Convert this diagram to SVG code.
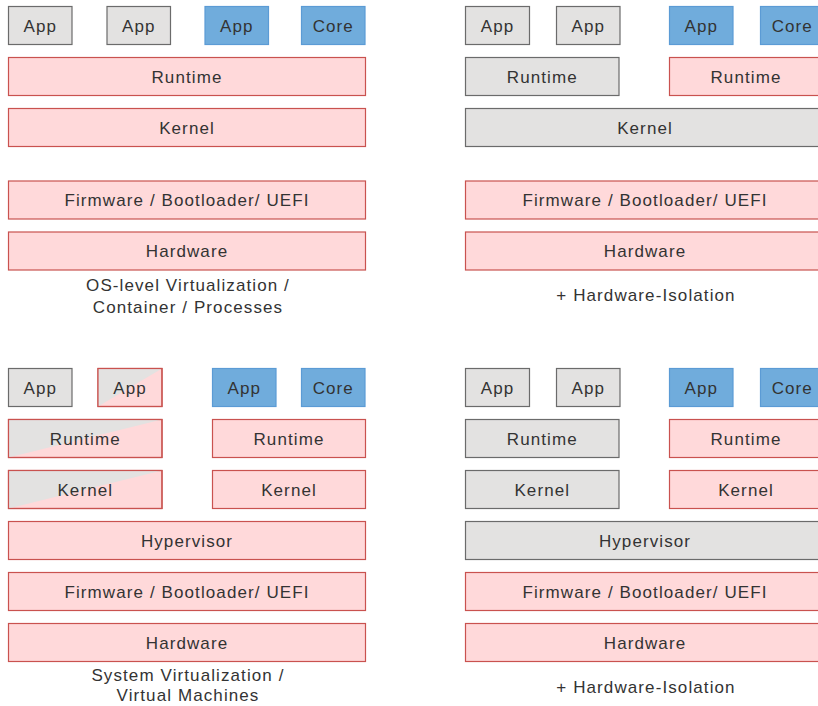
<svg xmlns="http://www.w3.org/2000/svg" width="818" height="706" viewBox="0 0 818 706">
<style>
rect{stroke-width:1.2}
.g{fill:#e3e2e1;stroke:#6b6b6b}
.p{fill:#ffd9da;stroke:#c9524f}
.b{fill:#70acdc;stroke:#5b9bd5}
.o{fill:none;stroke:#c9524f}
.gt{fill:#e3e2e1}
text{font-family:"Liberation Sans",Arial,sans-serif;font-size:17px;fill:#333333;text-anchor:middle;letter-spacing:1.1px}
</style>
<rect width="818" height="706" fill="#ffffff"/>
<!-- Top-left -->
<g id="tl-app1"><rect class="g" x="8.5" y="6.5" width="63.5" height="38"/><text x="40.3" y="31.5">App</text></g>
<g id="tl-app2"><rect class="g" x="107" y="6.5" width="63.5" height="38"/><text x="138.8" y="31.5">App</text></g>
<g id="tl-app3"><rect class="b" x="205" y="6.5" width="63.5" height="38"/><text x="236.8" y="31.5">App</text></g>
<g id="tl-core"><rect class="b" x="301.5" y="6.5" width="63.5" height="38"/><text x="333.3" y="31.5">Core</text></g>
<g id="tl-runtime"><rect class="p" x="8.5" y="57.5" width="357" height="38"/><text x="187" y="82.5">Runtime</text></g>
<g id="tl-kernel"><rect class="p" x="8.5" y="108.5" width="357" height="38"/><text x="187" y="133.5">Kernel</text></g>
<g id="tl-firmware"><rect class="p" x="8.5" y="181" width="357" height="38"/><text x="187" y="206">Firmware / Bootloader/ UEFI</text></g>
<g id="tl-hardware"><rect class="p" x="8.5" y="232" width="357" height="38"/><text x="187" y="257">Hardware</text></g>
<g id="tl-caption"><text x="188" y="291">OS-level Virtualization /</text><text x="188" y="313">Container / Processes</text></g>
<!-- Top-right -->
<g id="tr-app1"><rect class="g" x="465.5" y="6.5" width="64" height="38"/><text x="497.5" y="31.5">App</text></g>
<g id="tr-app2"><rect class="g" x="556.5" y="6.5" width="63.5" height="38"/><text x="588.3" y="31.5">App</text></g>
<g id="tr-app3"><rect class="b" x="669.5" y="6.5" width="63.5" height="38"/><text x="701.3" y="31.5">App</text></g>
<g id="tr-core"><rect class="b" x="760.5" y="6.5" width="63.5" height="38"/><text x="792.3" y="31.5">Core</text></g>
<g id="tr-runtime1"><rect class="g" x="465.5" y="57.5" width="153.5" height="38"/><text x="542.3" y="82.5">Runtime</text></g>
<g id="tr-runtime2"><rect class="p" x="669.5" y="57.5" width="160" height="38"/><text x="746" y="82.5">Runtime</text></g>
<g id="tr-kernel"><rect class="g" x="465.5" y="108.5" width="360" height="38"/><text x="645" y="133.5">Kernel</text></g>
<g id="tr-firmware"><rect class="p" x="465.5" y="181" width="360" height="38"/><text x="645" y="206">Firmware / Bootloader/ UEFI</text></g>
<g id="tr-hardware"><rect class="p" x="465.5" y="232" width="360" height="38"/><text x="645" y="257">Hardware</text></g>
<g id="tr-caption"><text x="646" y="301">+ Hardware-Isolation</text></g>
<!-- Bottom-left -->
<g id="bl-app1"><rect class="g" x="8.5" y="368.5" width="63.5" height="38"/><text x="40.3" y="393.5">App</text></g>
<g id="bl-app2"><rect class="p" x="98" y="368.5" width="64" height="38"/><polygon class="gt" points="98,368.5 162,368.5 98,406.5"/><rect class="o" x="98" y="368.5" width="64" height="38"/><text x="130" y="393.5">App</text></g>
<g id="bl-app3"><rect class="b" x="212.5" y="368.5" width="63.5" height="38"/><text x="244.3" y="393.5">App</text></g>
<g id="bl-core"><rect class="b" x="301.5" y="368.5" width="63.5" height="38"/><text x="333.3" y="393.5">Core</text></g>
<g id="bl-runtime1"><rect class="p" x="8.5" y="419.5" width="153.5" height="38"/><polygon class="gt" points="8.5,419.5 162,419.5 8.5,457.5"/><rect class="o" x="8.5" y="419.5" width="153.5" height="38"/><text x="85.3" y="444.5">Runtime</text></g>
<g id="bl-runtime2"><rect class="p" x="212.5" y="419.5" width="153" height="38"/><text x="289" y="444.5">Runtime</text></g>
<g id="bl-kernel1"><rect class="p" x="8.5" y="470.5" width="153.5" height="38"/><polygon class="gt" points="8.5,470.5 162,470.5 8.5,508.5"/><rect class="o" x="8.5" y="470.5" width="153.5" height="38"/><text x="85.3" y="495.5">Kernel</text></g>
<g id="bl-kernel2"><rect class="p" x="212.5" y="470.5" width="153" height="38"/><text x="289" y="495.5">Kernel</text></g>
<g id="bl-hypervisor"><rect class="p" x="8.5" y="521.5" width="357" height="38"/><text x="187" y="546.5">Hypervisor</text></g>
<g id="bl-firmware"><rect class="p" x="8.5" y="572.5" width="357" height="38"/><text x="187" y="597.5">Firmware / Bootloader/ UEFI</text></g>
<g id="bl-hardware"><rect class="p" x="8.5" y="623.5" width="357" height="38"/><text x="187" y="648.5">Hardware</text></g>
<g id="bl-caption"><text x="188" y="681">System Virtualization /</text><text x="188" y="701">Virtual Machines</text></g>
<!-- Bottom-right -->
<g id="br-app1"><rect class="g" x="465.5" y="368.5" width="64" height="38"/><text x="497.5" y="393.5">App</text></g>
<g id="br-app2"><rect class="g" x="556.5" y="368.5" width="63.5" height="38"/><text x="588.3" y="393.5">App</text></g>
<g id="br-app3"><rect class="b" x="669.5" y="368.5" width="63.5" height="38"/><text x="701.3" y="393.5">App</text></g>
<g id="br-core"><rect class="b" x="760.5" y="368.5" width="63.5" height="38"/><text x="792.3" y="393.5">Core</text></g>
<g id="br-runtime1"><rect class="g" x="465.5" y="419.5" width="153.5" height="38"/><text x="542.3" y="444.5">Runtime</text></g>
<g id="br-runtime2"><rect class="p" x="669.5" y="419.5" width="160" height="38"/><text x="746" y="444.5">Runtime</text></g>
<g id="br-kernel1"><rect class="g" x="465.5" y="470.5" width="153.5" height="38"/><text x="542.3" y="495.5">Kernel</text></g>
<g id="br-kernel2"><rect class="p" x="669.5" y="470.5" width="160" height="38"/><text x="746" y="495.5">Kernel</text></g>
<g id="br-hypervisor"><rect class="g" x="465.5" y="521.5" width="360" height="38"/><text x="645" y="546.5">Hypervisor</text></g>
<g id="br-firmware"><rect class="p" x="465.5" y="572.5" width="360" height="38"/><text x="645" y="597.5">Firmware / Bootloader/ UEFI</text></g>
<g id="br-hardware"><rect class="p" x="465.5" y="623.5" width="360" height="38"/><text x="645" y="648.5">Hardware</text></g>
<g id="br-caption"><text x="646" y="693">+ Hardware-Isolation</text></g>
<g id="connectors"/>
</svg>
